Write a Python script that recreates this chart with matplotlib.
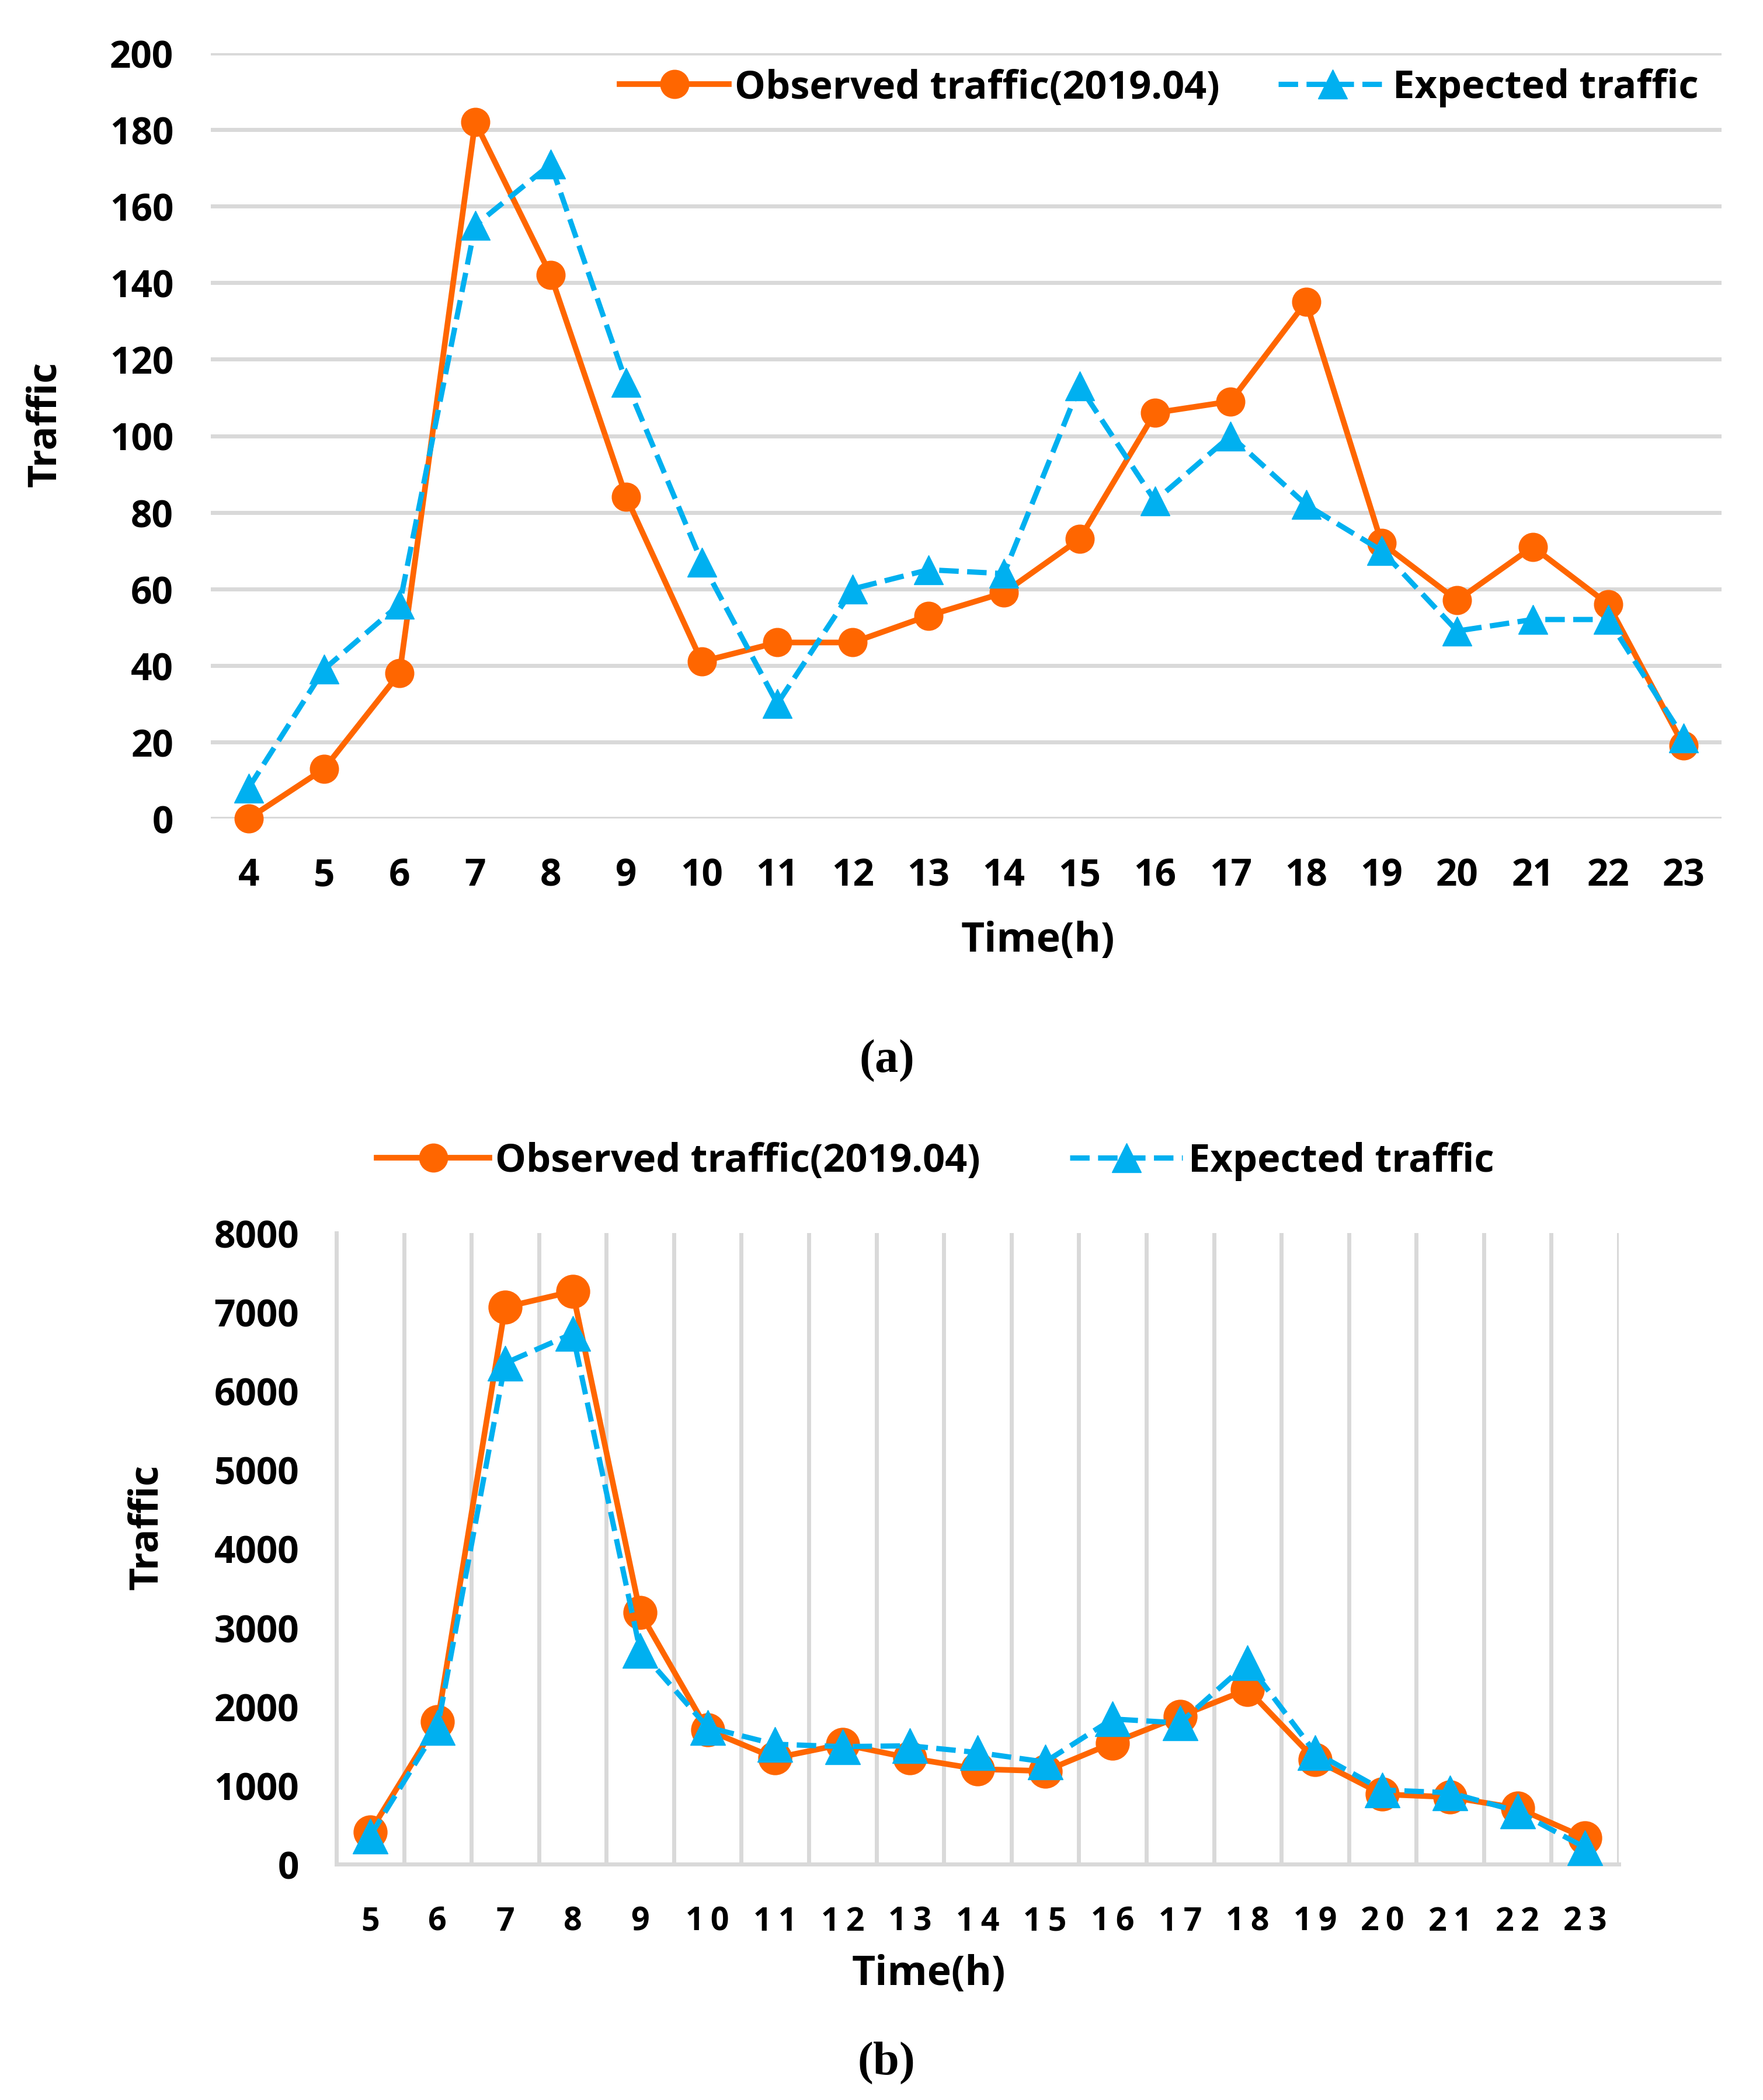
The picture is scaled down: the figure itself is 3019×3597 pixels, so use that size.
import matplotlib
matplotlib.use("Agg")
import matplotlib.pyplot as plt
import numpy as np

# Panel (a)
horas_a = [4, 5, 6, 7, 8, 9, 10, 11, 12, 13, 14, 15, 16, 17, 18, 19, 20, 21, 22, 23]
observado_a = [0, 13, 38, 182, 142, 84, 41, 46, 46, 53, 59, 73, 106, 109, 135, 72, 57, 71, 56, 19]
esperado_a = [8, 39, 56, 155, 171, 114, 67, 30, 60, 65, 64, 113, 83, 100, 82, 70, 49, 52, 52, 21]

# Panel (b)
horas_b = [5, 6, 7, 8, 9, 10, 11, 12, 13, 14, 15, 16, 17, 18, 19, 20, 21, 22, 23]
observado_b = [410, 1805, 7060, 7260, 3190, 1700, 1345, 1520, 1345, 1205, 1180, 1535, 1875, 2215, 1325, 885, 850, 710, 335]
esperado_b = [355, 1735, 6350, 6725, 2710, 1735, 1520, 1490, 1500, 1415, 1295, 1840, 1790, 2550, 1415, 940, 905, 670, 210]

etiqueta_obs = "Observed traffic(2019.04)"
etiqueta_esp = "Expected traffic"

NARANJA = "#FF6600"
AZUL = "#00B0F0"
GRIS = "#D9D9D9"

plt.rcParams["font.family"] = ["Open Sans", "DejaVu Sans"]
plt.rcParams["font.weight"] = "bold"
plt.rcParams["mathtext.fontset"] = "custom"
plt.rcParams["mathtext.rm"] = "Liberation Serif"
plt.rcParams["mathtext.bf"] = "Liberation Serif:bold"

W, H = 3019, 3598
fig = plt.figure(figsize=(W / 100, H / 100), dpi=100)


def caja(x0, y0, x1, y1):
    # pixeles -> fraccion de figura
    return [x0 / W, 1 - y1 / H, (x1 - x0) / W, (y1 - y0) / H]


def texto(x, y, s, **kw):
    fig.text(x / W, 1 - y / H, s, ha="center", va="center", **kw)


# ---------------- (a) ----------------
ax1 = fig.add_axes(caja(361, 92, 2948, 1403))
ax1.plot(horas_a, observado_a, color=NARANJA, lw=7, marker="o", ms=35,
         label=etiqueta_obs, clip_on=False, zorder=3)
ax1.plot(horas_a, esperado_a, color=AZUL, lw=6.5, ls="--", marker="^", ms=36,
         label=etiqueta_esp, clip_on=False, zorder=4)
ax1.set_xlim(3.5, 23.5)
ax1.set_ylim(0, 200)
ax1.set_yticks(np.arange(0, 201, 20))
ax1.set_xticks(horas_a)
ax1.grid(axis="y", color=GRIS, lw=5)
ax1.set_axisbelow(True)
for lado in ax1.spines.values():
    lado.set_visible(False)
ax1.tick_params(length=0, labelsize=46)
ax1.tick_params(axis="y", pad=46)
ax1.tick_params(axis="x", pad=47)
texto(1777, 1612, "Time(h)", fontsize=50, fontweight="bold")
texto(77, 727, "Traffic", rotation=90, fontsize=49, fontweight="bold")
ax1.legend(loc="center", bbox_to_anchor=(1985 / W, 1 - 151 / H),
           bbox_transform=fig.transFigure, ncol=2, frameon=False,
           fontsize=48, handlelength=2.8, handletextpad=0.15,
           columnspacing=1.5)

# ---------------- (b) ----------------
ax2 = fig.add_axes(caja(576, 2113, 2772, 3194))
ax2.plot(horas_b, observado_b, color=NARANJA, lw=7, marker="o", ms=41,
         label=etiqueta_obs, clip_on=False, zorder=3)
ax2.plot(horas_b, esperado_b, color=AZUL, lw=6.5, ls="--", marker="^", ms=43,
         label=etiqueta_esp, clip_on=False, zorder=4)
ax2.set_xlim(4.5, 23.5)
ax2.set_ylim(0, 8000)
ax2.set_yticks(np.arange(0, 8001, 1000))
ax2.set_xticks(horas_b)
ax2.set_xticklabels(["\u2009".join(str(h)) for h in horas_b])
ax2.set_xticks(np.arange(4.5, 23.6, 1), minor=True)
ax2.grid(axis="x", which="minor", color=GRIS, lw=5)
ax2.set_axisbelow(True)
ax2.spines["top"].set_visible(False)
ax2.spines["right"].set_visible(False)
for lado in ("left", "bottom"):
    ax2.spines[lado].set_color(GRIS)
    ax2.spines[lado].set_linewidth(5)
ax2.tick_params(which="both", length=0)
ax2.tick_params(axis="y", pad=46, labelsize=46)
ax2.tick_params(axis="x", pad=51, labelsize=40)
texto(1590, 3382, "Time(h)", fontsize=50, fontweight="bold")
texto(251, 2616, "Traffic", rotation=90, fontsize=49, fontweight="bold")
ax2.legend(loc="center", bbox_to_anchor=(1602 / W, 1 - 1990 / H),
           bbox_transform=fig.transFigure, ncol=2, frameon=False,
           fontsize=48, handlelength=2.9, handletextpad=0.15,
           columnspacing=2.3, markerscale=0.85)

# subtitulos
texto(1517, 1815, r"$(\mathbf{a})$", fontsize=58)
texto(1516, 3532, r"$(\mathbf{b})$", fontsize=58)

fig.savefig("out.png", dpi=100)
